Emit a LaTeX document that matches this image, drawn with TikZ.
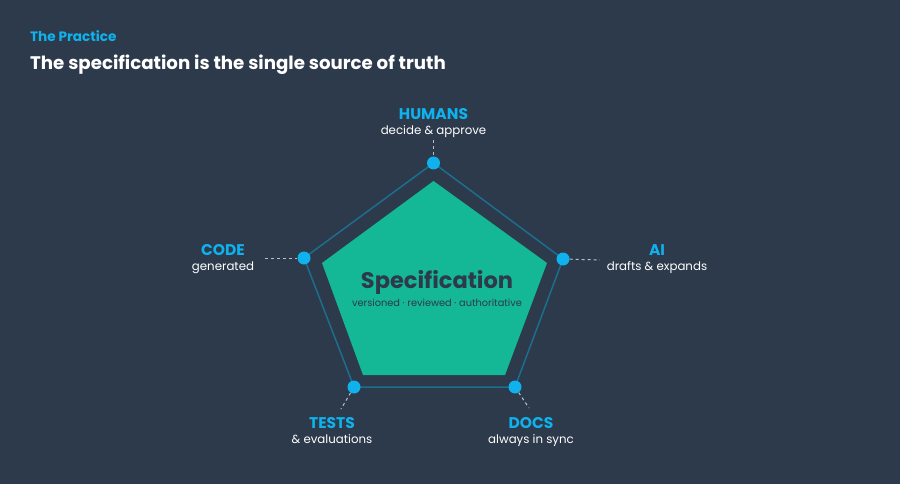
\documentclass[tikz,border=0pt]{standalone}
\usepackage{fontspec}
\setmainfont{Poppins}
\definecolor{bg}{HTML}{2C3A4B}
\definecolor{cyanc}{HTML}{0FB2EC}
\definecolor{greenc}{HTML}{14B896}
\definecolor{edgec}{HTML}{1D6E8E}
\definecolor{darkt}{HTML}{2C3A4B}
\definecolor{dashc}{HTML}{B8C0C8}
\begin{document}
\begin{tikzpicture}[x=1pt,y=-1pt,
  head/.style={text=cyanc,font=\fontsize{15.5}{17}\selectfont\bfseries,inner sep=0pt},
  sub/.style={text=white,font=\fontsize{11.8}{13}\selectfont,inner sep=0pt},
  dot/.style={circle,fill=cyanc,minimum size=13pt,inner sep=0pt},
  conn/.style={draw=dashc,dash pattern=on 3pt off 3pt,line width=1pt}]
\fill[bg] (0,0) rectangle (900,484);
\useasboundingbox (0,0) rectangle (900,484);
\node[anchor=base west,text=cyanc,font=\fontsize{13.6}{15}\selectfont\bfseries,inner sep=0pt] (kicker) at (30,42) {The Practice};
\node[anchor=base west,text=white,font=\fontsize{18.2}{21}\selectfont\bfseries,inner sep=0pt] (title) at (30,70) {The specification is the single source of truth};
% outer pentagon
\coordinate (pT) at (433.5,163);
\coordinate (pR) at (563,259);
\coordinate (pBR) at (515,387);
\coordinate (pBL) at (354,387);
\coordinate (pL) at (304,258);
\draw[edgec,line width=1.5pt,line join=round] (pT) -- (pR) -- (pBR) -- (pBL) -- (pL) -- cycle;
% inner green pentagon
\fill[greenc] (433.5,181) -- (547,263) -- (505,375) -- (363,375) -- (322,263) -- cycle;
\node[text=darkt,font=\fontsize{22.5}{25}\selectfont\bfseries,inner sep=0pt,anchor=base] (spec) at (437,288) {Specification};
\node[text=darkt,font=\fontsize{9.8}{11}\selectfont,inner sep=0pt,anchor=base] (specsub) at (437,306) {versioned · reviewed · authoritative};
% dots
\node[dot] (dH) at (pT) {};
\node[dot] (dA) at (pR) {};
\node[dot] (dD) at (pBR) {};
\node[dot] (dT) at (pBL) {};
\node[dot] (dC) at (pL) {};
% labels
\node[head,anchor=base] (hH) at (433.5,120) {HUMANS};
\node[sub,anchor=base] (sH) at (433.5,135) {decide \& approve};
\node[head,anchor=base] (hC) at (223,255) {CODE};
\node[sub,anchor=base] (sC) at (223,270) {generated};
\node[head,anchor=base] (hA) at (657,255) {AI};
\node[sub,anchor=base] (sA) at (657,270) {drafts \& expands};
\node[head,anchor=base] (hT) at (332,428) {TESTS};
\node[sub,anchor=base] (sT) at (332,443) {\& evaluations};
\node[head,anchor=base] (hD) at (531,428) {DOCS};
\node[sub,anchor=base] (sD) at (531,443) {always in sync};
% connectors
\coordinate (cH) at (433.5,140);
\coordinate (cC) at (265,258);
\coordinate (cA) at (600,260);
\coordinate (cT) at (341,409);
\coordinate (cD) at (529,408);
\draw[conn] (cH) -- (dH);
\draw[conn] (cC) -- (dC);
\draw[conn] (dA) -- (cA);
\draw[conn] (dT) -- (cT);
\draw[conn] (dD) -- (cD);
\end{tikzpicture}
\end{document}
